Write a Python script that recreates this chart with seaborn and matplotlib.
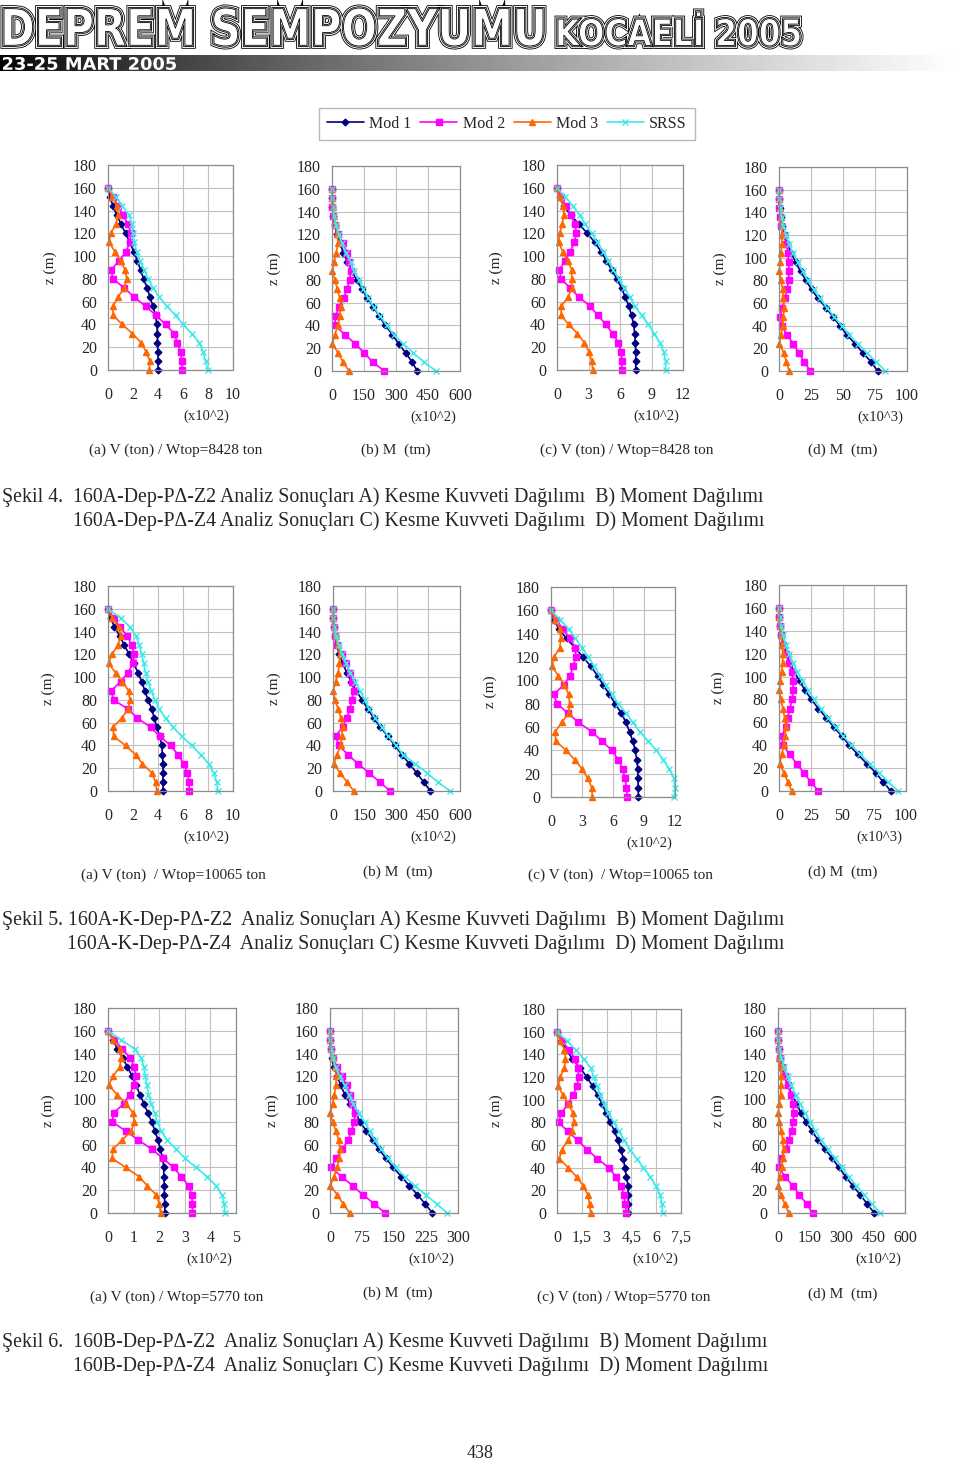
import numpy as np
import matplotlib
matplotlib.use('Agg')
import matplotlib.pyplot as plt
import matplotlib.patheffects as pe
from matplotlib.textpath import TextPath
from matplotlib.patches import PathPatch
from matplotlib.font_manager import FontProperties
from matplotlib.transforms import Affine2D
from matplotlib.lines import Line2D
import seaborn as sns

# kat yükseklikleri (m)
Z = [0, 8, 16, 24, 32, 40, 48, 56, 64, 72, 80, 88, 96, 104, 112, 120, 128, 136, 144, 152, 160]

# ---- Şekil 4 ----
s4a_mod1 = [4.0, 4.0, 4.0, 3.95, 3.95, 3.9, 3.8, 3.6, 3.35, 3.15, 2.85, 2.6, 2.35, 2.05, 1.75, 1.4, 1.05, 0.7, 0.4, 0.15, 0.0]
s4a_mod2 = [5.9, 5.9, 5.8, 5.55, 5.3, 4.6, 3.85, 3.0, 2.1, 1.3, 0.4, 0.25, 0.9, 1.45, 1.75, 1.85, 1.6, 1.2, 0.8, 0.4, 0.0]
s4a_mod3 = [3.3, 3.35, 3.05, 2.65, 1.95, 1.15, 0.4, 0.4, 0.8, 1.3, 1.5, 1.35, 1.0, 0.55, 0.1, 0.2, 0.65, 0.8, 0.75, 0.35, 0.0]
s4a_srss = [8.0, 7.8, 7.6, 7.3, 6.7, 6.0, 5.4, 4.7, 4.1, 3.6, 3.2, 2.9, 2.55, 2.3, 2.1, 2.0, 1.9, 1.7, 1.15, 0.65, 0.0]

s4b_mod1 = [400, 375, 345, 312, 283, 250, 222, 194, 166, 140, 115, 92, 72, 53, 37, 24, 13, 6, 2, 0.5, 0]
s4b_mod2 = [245, 190, 150, 108, 60, 15, 15, 35, 55, 70, 83, 88, 80, 70, 52, 30, 14, 6, 2, 0.5, 0]
s4b_mod3 = [79, 52, 28, 2, 13, 28, 36, 40, 36, 25, 13, 2, 10, 20, 28, 25, 17, 8, 3, 1, 0]
s4b_srss = [487, 431, 380, 333, 289, 257, 225, 196, 170, 147, 126, 104, 87, 65, 47, 32, 20, 10, 4, 1, 0]

s4c_mod1 = [7.5, 7.5, 7.5, 7.45, 7.4, 7.3, 7.1, 6.85, 6.5, 6.15, 5.7, 5.2, 4.7, 4.2, 3.6, 2.9, 2.1, 1.3, 0.65, 0.25, 0.0]
s4c_mod2 = [6.2, 6.2, 6.1, 5.85, 5.3, 4.65, 3.9, 3.15, 2.1, 1.25, 0.4, 0.2, 0.8, 1.25, 1.65, 1.85, 1.7, 1.35, 0.85, 0.4, 0.0]
s4c_mod3 = [3.4, 3.3, 3.05, 2.6, 1.95, 1.1, 0.4, 0.4, 1.05, 1.4, 1.4, 1.4, 1.0, 0.55, 0.15, 0.25, 0.5, 0.65, 0.6, 0.25, 0.0]
s4c_srss = [10.35, 10.35, 10.15, 9.8, 9.25, 8.7, 8.05, 7.4, 6.95, 6.4, 5.9, 5.35, 4.9, 4.4, 3.85, 3.3, 2.7, 2.15, 1.5, 0.8, 0.0]

s4d_mod1 = [77, 72, 65.5, 59.5, 53, 47.6, 42, 36.6, 30.6, 25.4, 21, 16.8, 13, 9.7, 6.5, 4, 2.5, 1.2, 0.5, 0.1, 0]
s4d_mod2 = [24.6, 19.6, 15.7, 11, 6.3, 2, 1, 2.6, 4.5, 6.3, 7.6, 7.9, 7.6, 7.1, 5.8, 3.7, 1.8, 0.8, 0.3, 0.1, 0]
s4d_mod3 = [7.9, 5.8, 3.7, 0.3, 1.5, 3, 3.5, 3.8, 3.5, 2.8, 1.5, 0.3, 0.8, 1.5, 2.2, 2.5, 2.2, 1.5, 0.6, 0.2, 0]
s4d_srss = [83, 76, 68.5, 61.5, 55, 49, 43, 37.5, 32, 27, 22.5, 18.5, 14.5, 11, 8, 5.5, 3.5, 2, 1, 0.3, 0]

# ---- Şekil 5 ----
s5a_mod1 = [4.4, 4.4, 4.4, 4.4, 4.35, 4.3, 4.15, 3.9, 3.7, 3.5, 3.2, 2.95, 2.7, 2.4, 2.05, 1.7, 1.3, 0.95, 0.5, 0.25, 0.0]
s5a_mod2 = [6.5, 6.5, 6.35, 6.05, 5.6, 5.0, 4.15, 3.4, 2.35, 1.6, 0.45, 0.25, 1.0, 1.6, 2.0, 2.1, 1.9, 1.55, 0.95, 0.45, 0.0]
s5a_mod3 = [3.9, 3.8, 3.5, 2.75, 2.2, 1.4, 0.45, 0.4, 1.1, 1.6, 1.75, 1.65, 1.15, 0.6, 0.05, 0.3, 0.8, 1.0, 0.85, 0.35, 0.0]
s5a_srss = [8.8, 8.7, 8.45, 8.05, 7.4, 6.7, 5.9, 5.2, 4.6, 4.1, 3.75, 3.45, 3.2, 3.0, 2.85, 2.7, 2.5, 2.25, 1.75, 1.0, 0.0]

s5b_mod1 = [460, 428, 395, 360, 325, 292, 259, 224, 192, 165, 137, 110, 86, 65, 46, 30, 17, 8, 3, 1, 0]
s5b_mod2 = [270, 220, 170, 118, 70, 28, 12, 45, 65, 80, 89, 97, 89, 81, 61, 42, 20, 8, 3, 1, 0]
s5b_mod3 = [98, 66, 33, 4, 19, 36, 42, 45, 38, 24, 9, 1, 12, 25, 30, 31, 22, 12, 4, 1, 0]
s5b_srss = [552, 495, 442, 388, 332, 298, 262, 230, 200, 172, 150, 127, 104, 82, 62, 44, 28, 15, 6, 2, 0]

s5c_mod1 = [8.45, 8.45, 8.4, 8.4, 8.3, 8.15, 7.9, 7.6, 7.25, 6.8, 6.2, 5.65, 5.05, 4.5, 3.85, 3.1, 2.3, 1.5, 0.75, 0.3, 0.0]
s5c_mod2 = [7.4, 7.3, 7.15, 6.95, 6.5, 5.9, 4.9, 3.95, 2.65, 1.6, 0.6, 0.25, 1.25, 1.85, 2.15, 2.4, 2.35, 1.85, 1.15, 0.5, 0.0]
s5c_mod3 = [4.0, 3.95, 3.55, 3.0, 2.3, 1.45, 0.45, 0.4, 1.05, 1.7, 1.8, 1.7, 1.3, 0.7, 0.1, 0.3, 0.85, 0.95, 0.85, 0.4, 0.0]
s5c_srss = [11.9, 12.0, 11.9, 11.45, 10.85, 10.2, 9.4, 8.6, 7.9, 7.25, 6.5, 5.9, 5.3, 4.75, 4.2, 3.6, 3.0, 2.35, 1.7, 0.9, 0.0]

s5d_mod1 = [88, 82, 76, 69, 62, 55.5, 49.5, 43, 37.3, 31, 25.5, 20.5, 16.3, 12, 8.5, 6, 3.5, 1.8, 0.7, 0.2, 0]
s5d_mod2 = [31, 25, 19.4, 13.8, 8.5, 3.1, 2.2, 5.3, 6.9, 8.5, 10.5, 11, 11.3, 10, 7.8, 5.3, 3, 1.5, 0.5, 0.1, 0]
s5d_mod3 = [10, 6.9, 3.8, 0.6, 2.2, 3.8, 4.7, 5.3, 4.4, 3.1, 1.3, 0.3, 1, 2, 2.8, 3, 2.5, 1.5, 0.6, 0.2, 0]
s5d_srss = [94, 86, 79, 71.5, 64, 57, 50.5, 44.5, 38.5, 33, 27.5, 23, 18.5, 14.5, 11, 8, 5.5, 3.2, 1.5, 0.5, 0]

# ---- Şekil 6 ----
s6a_mod1 = [2.22, 2.22, 2.2, 2.2, 2.18, 2.18, 2.14, 2.04, 1.95, 1.84, 1.7, 1.56, 1.4, 1.25, 1.1, 0.95, 0.76, 0.58, 0.37, 0.2, 0.0]
s6a_mod2 = [3.3, 3.3, 3.27, 3.15, 2.86, 2.56, 2.14, 1.71, 1.19, 0.69, 0.17, 0.22, 0.62, 0.84, 1.01, 1.08, 1.03, 0.87, 0.56, 0.25, 0.0]
s6a_mod3 = [2.07, 2.01, 1.88, 1.53, 1.21, 0.69, 0.16, 0.19, 0.55, 0.91, 1.03, 0.97, 0.71, 0.36, 0.02, 0.19, 0.45, 0.52, 0.45, 0.2, 0.0]
s6a_srss = [4.57, 4.54, 4.45, 4.22, 3.87, 3.44, 3.01, 2.66, 2.31, 2.08, 1.92, 1.82, 1.69, 1.58, 1.52, 1.46, 1.4, 1.3, 1.04, 0.52, 0.0]

s6b_mod1 = [240, 223, 205, 186, 167, 148, 131, 115, 100, 85, 71, 59, 47, 35, 25, 17, 9, 4, 1.5, 0.4, 0]
s6b_mod2 = [129, 104, 77, 53, 27, 2, 15, 28, 43, 50, 57, 58, 52, 48, 39, 28, 16, 7, 2.5, 0.8, 0]
s6b_mod3 = [46, 31, 17, 1, 9.5, 17, 22, 24, 20, 14, 6, 1, 6, 10, 14, 15, 12, 6, 2.5, 0.8, 0]
s6b_srss = [275, 250, 224, 199, 175, 154, 136, 120, 105, 93, 81, 67, 55, 44, 34, 23, 13, 7, 3, 1, 0]

s6c_mod1 = [4.32, 4.32, 4.3, 4.3, 4.2, 4.1, 4.02, 3.85, 3.69, 3.49, 3.22, 2.98, 2.74, 2.45, 2.15, 1.8, 1.4, 0.93, 0.57, 0.24, 0.0]
s6c_mod2 = [4.2, 4.12, 4.06, 3.85, 3.55, 3.14, 2.43, 1.83, 1.26, 0.65, 0.1, 0.26, 0.65, 0.97, 1.2, 1.32, 1.26, 1.1, 0.71, 0.33, 0.0]
s6c_mod3 = [2.03, 1.97, 1.87, 1.58, 1.18, 0.68, 0.14, 0.3, 0.65, 0.91, 1.01, 0.97, 0.71, 0.37, 0.06, 0.2, 0.45, 0.51, 0.45, 0.2, 0.0]
s6c_srss = [6.39, 6.35, 6.23, 5.98, 5.64, 5.23, 4.81, 4.42, 4.06, 3.75, 3.45, 3.1, 2.84, 2.6, 2.43, 2.23, 2.03, 1.62, 1.12, 0.61, 0.0]

s6d_mod1 = [455, 421, 389, 353, 320, 287, 257, 222, 190, 160, 133, 108, 88, 66, 47, 32, 19, 9, 3.5, 1, 0]
s6d_mod2 = [163, 135, 101, 70, 33, 4, 13, 36, 51, 64, 72, 74, 70, 60, 47, 32, 19, 8, 3, 1, 0]
s6d_mod3 = [51, 32, 13, 1, 8, 17, 22, 26, 22, 15, 7, 1, 6, 12, 15, 15, 12, 6, 2.5, 0.8, 0]
s6d_srss = [483, 445, 408, 370, 334, 300, 268, 236, 205, 177, 151, 126, 104, 83, 63, 45, 30, 16, 7, 2, 0]

# eksen işaretleri
ticks_v10 = [0, 2, 4, 6, 8, 10]
ticks_m600 = [0, 150, 300, 450, 600]
ticks_v12 = [0, 3, 6, 9, 12]
ticks_m100 = [0, 25, 50, 75, 100]
ticks_v5 = [0, 1, 2, 3, 4, 5]
ticks_m300 = [0, 75, 150, 225, 300]
ticks_v75 = [0, 1.5, 3, 4.5, 6, 7.5]
labels_v75 = ['0', '1,5', '3', '4,5', '6', '7,5']

series_names = ['Mod 1', 'Mod 2', 'Mod 3', 'SRSS']
colors = ['#000080', '#FF00FF', '#FF6600', '#3DEAEA']
markers = ['D', 's', '^', 'x']
msizes = [3.4, 3.8, 4.6, 5.0]

captions = [
    ("Şekil 4.  160A-Dep-PΔ-Z2 Analiz Sonuçları A) Kesme Kuvveti Dağılımı  B) Moment Dağılımı",
     "160A-Dep-PΔ-Z4 Analiz Sonuçları C) Kesme Kuvveti Dağılımı  D) Moment Dağılımı"),
    ("Şekil 5. 160A-K-Dep-PΔ-Z2  Analiz Sonuçları A) Kesme Kuvveti Dağılımı  B) Moment Dağılımı",
     "160A-K-Dep-PΔ-Z4  Analiz Sonuçları C) Kesme Kuvveti Dağılımı  D) Moment Dağılımı"),
    ("Şekil 6.  160B-Dep-PΔ-Z2  Analiz Sonuçları A) Kesme Kuvveti Dağılımı  B) Moment Dağılımı",
     "160B-Dep-PΔ-Z4  Analiz Sonuçları C) Kesme Kuvveti Dağılımı  D) Moment Dağılımı"),
]

# (veri, xmax, ticks, labels, çarpan, başlık)
panels = [
    [([s4a_mod1, s4a_mod2, s4a_mod3, s4a_srss], 10, ticks_v10, None, '(x10^2)', '(a) V (ton) / Wtop=8428 ton'),
     ([s4b_mod1, s4b_mod2, s4b_mod3, s4b_srss], 600, ticks_m600, None, '(x10^2)', '(b) M  (tm)'),
     ([s4c_mod1, s4c_mod2, s4c_mod3, s4c_srss], 12, ticks_v12, None, '(x10^2)', '(c) V (ton) / Wtop=8428 ton'),
     ([s4d_mod1, s4d_mod2, s4d_mod3, s4d_srss], 100, ticks_m100, None, '(x10^3)', '(d) M  (tm)')],
    [([s5a_mod1, s5a_mod2, s5a_mod3, s5a_srss], 10, ticks_v10, None, '(x10^2)', '(a) V (ton)  / Wtop=10065 ton'),
     ([s5b_mod1, s5b_mod2, s5b_mod3, s5b_srss], 600, ticks_m600, None, '(x10^2)', '(b) M  (tm)'),
     ([s5c_mod1, s5c_mod2, s5c_mod3, s5c_srss], 12, ticks_v12, None, '(x10^2)', '(c) V (ton)  / Wtop=10065 ton'),
     ([s5d_mod1, s5d_mod2, s5d_mod3, s5d_srss], 100, ticks_m100, None, '(x10^3)', '(d) M  (tm)')],
    [([s6a_mod1, s6a_mod2, s6a_mod3, s6a_srss], 5, ticks_v5, None, '(x10^2)', '(a) V (ton) / Wtop=5770 ton'),
     ([s6b_mod1, s6b_mod2, s6b_mod3, s6b_srss], 300, ticks_m300, None, '(x10^2)', '(b) M  (tm)'),
     ([s6c_mod1, s6c_mod2, s6c_mod3, s6c_srss], 7.5, ticks_v75, labels_v75, '(x10^2)', '(c) V (ton) / Wtop=5770 ton'),
     ([s6d_mod1, s6d_mod2, s6d_mod3, s6d_srss], 600, ticks_m600, None, '(x10^2)', '(d) M  (tm)')],
]

# yerleşim (piksel): eksen kutuları, z (m) x konumu, alt başlık konumu
boxes = [
    [(108, 165, 233, 370), (332, 166, 460, 371), (557, 165, 683, 370), (779, 167, 907, 371)],
    [(108, 586, 233, 791), (333, 586, 460, 791), (551, 587, 675, 797), (779, 585, 906, 791)],
    [(108, 1008, 236, 1213), (330, 1008, 458, 1213), (557, 1009, 681, 1213), (778, 1008, 905, 1213)],
]
zlab_x = [[57, 281, 503, 727], [55, 281, 497, 725], [55, 279, 503, 725]]
title_pos = [
    [(176, 450), (396, 450), (627, 450), (843, 450)],
    [(173, 875), (398, 872), (620, 875), (843, 872)],
    [(177, 1297), (398, 1293), (624, 1297), (843, 1294)],
]
caption_y = [(497, 521), (920, 944), (1342, 1366)]
caption_x2 = [73, 67, 73]

W, H = 960, 1464
sns.set_style('white')
plt.rcParams['font.family'] = ['Liberation Serif', 'DejaVu Serif']

fig = plt.figure(figsize=(9.6, 14.64), dpi=100)
bg = fig.add_axes([0, 0, 1, 1], zorder=-1)
bg.axis('off')

# ---- başlık bandı ----
def banner(text, x0, y0, x1, y1, fc, striped):
    tp = TextPath((0, 0), text, size=1, prop=FontProperties(family='DejaVu Sans', weight='bold'))
    ext = tp.get_extents()
    tr = Affine2D().translate(-ext.x0, -ext.y0).scale((x1 - x0) / ext.width, -(y1 - y0) / ext.height).translate(x0, y1)
    if striped:
        p = PathPatch(tr.transform_path(tp), facecolor=fc, edgecolor='black', lw=0.6)
        p.set_path_effects([pe.Stroke(linewidth=5.0, foreground='black'),
                            pe.Stroke(linewidth=3.8, foreground='white'),
                            pe.Stroke(linewidth=2.4, foreground='black'),
                            pe.Stroke(linewidth=1.2, foreground='white'),
                            pe.Normal()])
    else:
        p = PathPatch(tr.transform_path(tp), facecolor=fc, edgecolor='none')
    bg.add_patch(p)

grad = np.linspace(0, 1, 300) ** 0.8
bg.imshow(grad[np.newaxis, :], extent=[0, 960, 71, 55], cmap='gray', vmin=0, vmax=1, aspect='auto')
banner('DEPREM SEMPOZYUMU', 4, 8, 543, 46, 'white', True)
banner('KOCAELİ 2005', 558, 12, 800, 46, 'white', True)
banner('23-25 MART 2005', 3, 57, 176, 70, 'white', False)
bg.set_xlim(0, W)
bg.set_ylim(H, 0)

# ---- paneller ----
for r in range(3):
    for c in range(4):
        data, xmax, ticks, labels, mult, title = panels[r][c]
        x0, y0, x1, y1 = boxes[r][c]
        ax = fig.add_axes([x0 / W, 1 - y1 / H, (x1 - x0) / W, (y1 - y0) / H])
        for vals, col, mk, ms in zip(data, colors, markers, msizes):
            sns.lineplot(x=vals, y=Z, sort=False, orient='y', errorbar=None, ax=ax,
                         color=col, marker=mk, markersize=ms, markeredgecolor=col,
                         markeredgewidth=1.0, linewidth=1.2, clip_on=False)
        ax.set_xlim(0, xmax)
        ax.set_ylim(0, 180)
        ax.set_xticks(ticks)
        ax.set_xticklabels(labels if labels else [str(t) for t in ticks])
        ax.set_yticks([0, 20, 40, 60, 80, 100, 120, 140, 160, 180])
        ax.grid(True, color='#C0C0C0', linewidth=0.8)
        ax.set_axisbelow(True)
        for sp in ax.spines.values():
            sp.set_color('#8C8C8C')
            sp.set_linewidth(0.9)
        ax.tick_params(axis='x', length=0, labelsize=11.5, pad=12)
        ax.tick_params(axis='y', length=0, labelsize=11.5, pad=8)
        ax.set_xlabel('')
        ax.set_ylabel('z (m)', fontsize=11)
        ax.yaxis.set_label_coords((zlab_x[r][c] - x0) / (x1 - x0), 0.5)
        bg.text(x0 + 0.79 * (x1 - x0), y1 + 46, mult, fontsize=10.5, ha='center', va='center')
        tx, ty = title_pos[r][c]
        bg.text(tx, ty, title, fontsize=11, ha='center', va='center')
    l1, l2 = captions[r]
    bg.text(2, caption_y[r][0], l1, fontsize=14.3, ha='left', va='center')
    bg.text(caption_x2[r], caption_y[r][1], l2, fontsize=14.3, ha='left', va='center')

# ---- lejant ----
handles = [Line2D([0], [0], color=col, marker=mk, markersize=ms, markeredgecolor=col, linewidth=1.2)
           for col, mk, ms in zip(colors, markers, msizes)]
leg = fig.legend(handles, series_names, loc='center', bbox_to_anchor=(507 / W, 1 - 124 / H), ncol=4,
                 frameon=True, fancybox=False, edgecolor='#A6A6A6', fontsize=11.5, handlelength=2.3,
                 columnspacing=0.55, handletextpad=0.35, borderpad=0.5)
leg.get_frame().set_linewidth(1.0)

bg.text(480, 1453, '438', fontsize=13, ha='center', va='center')

fig.savefig('out.png', dpi=100)
